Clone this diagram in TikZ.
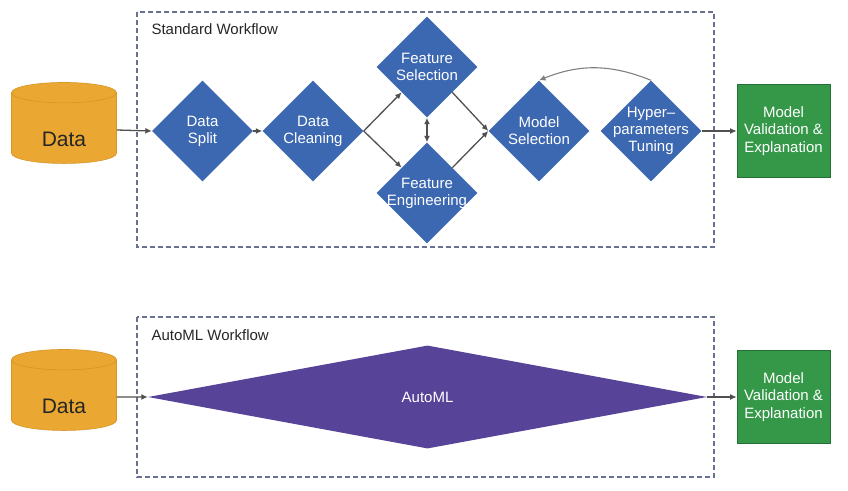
\documentclass[tikz,border=0pt]{standalone}
\usepackage{fontspec}
\setmainfont{Liberation Sans}
\usetikzlibrary{positioning,arrows.meta,shapes.geometric}
\definecolor{stepblue}{RGB}{60,104,177}
\definecolor{dbgold}{RGB}{234,168,50}
\definecolor{dbedge}{RGB}{214,150,40}
\definecolor{valgreen}{RGB}{52,152,72}
\definecolor{valedge}{RGB}{36,112,52}
\definecolor{amlpurple}{RGB}{87,67,151}
\definecolor{wfframe}{RGB}{104,113,145}
\definecolor{linkgray}{RGB}{80,80,80}
\tikzset{
  flow/.style={-{Latex[length=6.5pt,width=6pt]},line width=1.3pt,linkgray},
  flowboth/.style={{Latex[length=6.5pt,width=6pt]}-{Latex[length=6.5pt,width=6pt]},line width=1.3pt,linkgray},
  loopback/.style={-{Latex[length=6.5pt,width=6pt]},line width=1.1pt,black!50},
  steptext/.style={text=white,align=center,font=\fontsize{15}{17}\selectfont},
  stepnode/.style={diamond,aspect=1,fill=stepblue,inner sep=0pt,minimum size=101pt,
    label={[steptext]center:#1}},
  db/.style={cylinder,shape border rotate=90,aspect=0.4,fill=dbgold,draw=dbedge,
    line width=0.6pt,minimum width=105pt,minimum height=81pt,
    text height=33pt,text depth=0pt,text=black!85,font=\fontsize{21}{24}\selectfont},
  result/.style={rectangle,fill=valgreen,draw=valedge,line width=0.8pt,
    minimum width=93pt,minimum height=93pt,text=white,align=center,
    font=\fontsize{15}{17.5}\selectfont},
  wfbox/.style={draw=wfframe,dash pattern=on 5pt off 3pt,line width=1.1pt},
  wftitle/.style={anchor=west,text=black!85,font=\fontsize{15}{17}\selectfont},
}

\begin{document}
\begin{tikzpicture}[x=1pt,y=-1pt]
  \useasboundingbox (0,0) rectangle (848,490);
  % standard workflow
  \draw[wfbox] (137,12) rectangle (714,247);
  \node[wftitle] (stdtitle) at (148,29) {Standard Workflow};
  \node[db] (dataA) at (64,130) {Data};
  \node[stepnode={Data\\Split}] (split) at (202.5,131) {};
  \node[stepnode={Data\\Cleaning}] (clean) at (313,131) {};
  \node[stepnode={Feature\\Selection}] (fsel) at (427,67) {};
  \node[stepnode={Feature\\Engineering}] (feng) at (427,193) {};
  \node[stepnode={Model\\Selection}] (msel) at (539,131) {};
  \node[stepnode={Hyper–\\parameters\\Tuning}] (tune) at (651,131) {};
  \node[result] (valA) at (783.5,131) {Model\\Validation \&\\Explanation};
  \draw[flow] (dataA.east) -- (split.west);
  \draw[flow] (split.east) -- (clean.west);
  \draw[flow] (clean.east) -- (fsel.south west);
  \draw[flow] (clean.east) -- (feng.north west);
  \draw[flowboth] (fsel.south) -- (feng.north);
  \draw[flow] (fsel.south east) -- (msel.west);
  \draw[flow] (feng.north east) -- (msel.west);
  \draw[loopback] (tune.north) to[bend right=22] (msel.north);
  \draw[flow] (tune.east) -- (valA.west);
  % automl workflow
  \draw[wfbox] (137,317) rectangle (714,477);
  \node[wftitle] (amltitle) at (148,335) {AutoML Workflow};
  \node[db] (dataB) at (64,397) {Data};
  \node[diamond,fill=amlpurple,text=white,inner sep=0pt,minimum width=559pt,
    minimum height=103pt,font=\fontsize{15}{17}\selectfont] (automl) at (427.5,397) {AutoML};
  \node[result] (valB) at (783.5,397) {Model\\Validation \&\\Explanation};
  \draw[flow] (dataB.east) -- (automl.west);
  \draw[flow] (automl.east) -- (valB.west);
\end{tikzpicture}
\end{document}
